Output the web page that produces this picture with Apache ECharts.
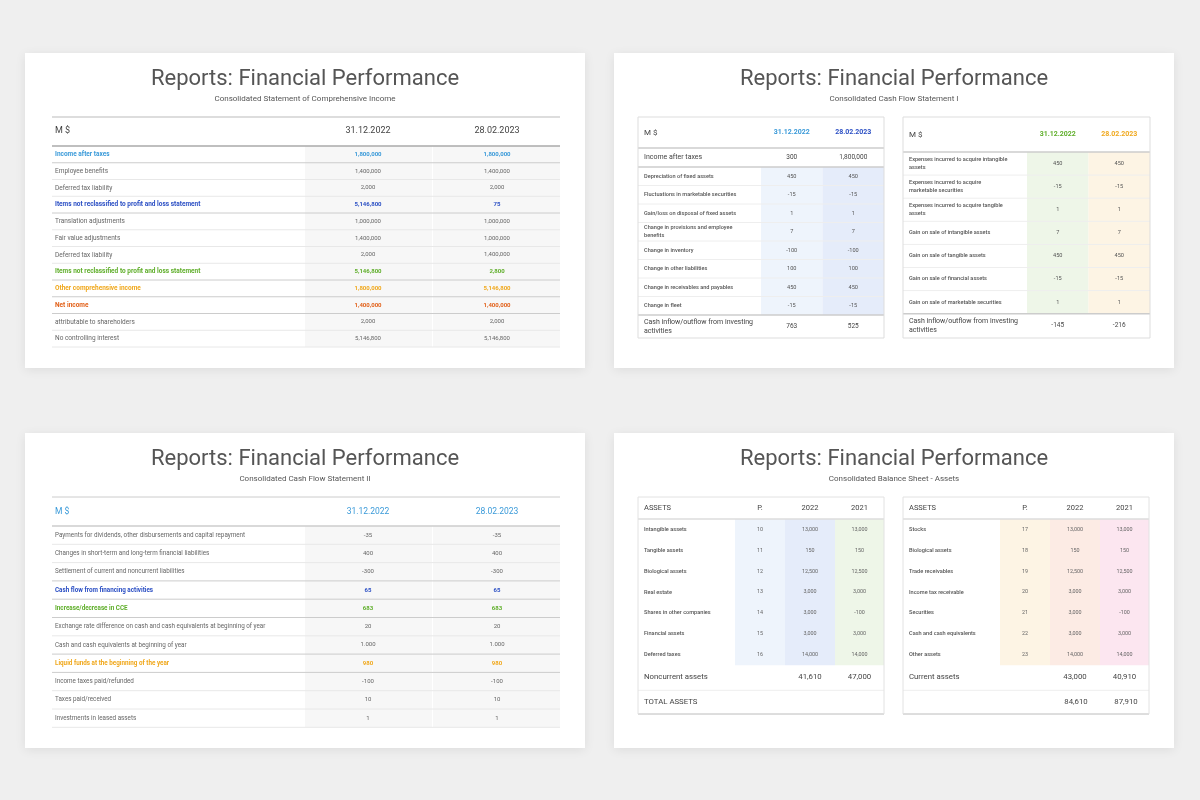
<!DOCTYPE html>
<html>
<head lang="en">
  <meta charset="UTF-8">
  <title>Reports: Financial Performance</title>
  <script src="https://cdn.jsdelivr.net/npm/echarts@6/dist/echarts.min.js"></script>
  <style>
  body { margin: 0; background: #efefef; }
  #main { width: 1200px; height: 800px; }
  </style>
</head>
<body>
  <div id="main"></div>
<script>
var TITLE = 'Reports: Financial Performance';

// slide 1
var incomeHeader = ['M $', '31.12.2022', '28.02.2023'];
var incomeLabels = ['Income after taxes', 'Employee benefits', 'Deferred tax liability',
  'Items not reclassified to profit and loss statement', 'Translation adjustments',
  'Fair value adjustments', 'Deferred tax liability',
  'Items not reclassified to profit and loss statement', 'Other comprehensive income',
  'Net income', 'attributable to shareholders', 'No controlling interest'];
var income2022 = ['1,800,000', '1,400,000', '2,000', '5,146,800', '1,000,000', '1,400,000', '2,000', '5,146,800', '1,800,000', '1,400,000', '2,000', '5,146,800'];
var income2023 = ['1,800,000', '1,400,000', '2,000', '75', '1,000,000', '1,000,000', '1,400,000', '2,800', '5,146,800', '1,400,000', '2,000', '5,146,800'];
var incomeStyle = ['lblue', '', '', 'dblue', '', '', '', 'green', 'orange', 'red', '', ''];

// slide 2
var cfTop = ['Income after taxes', '300', '1,800,000'];
var cfLabels = ['Depreciation of fixed assets', 'Fluctuations in marketable securities',
  'Gain/loss on disposal of fixed assets', 'Change in provisions and employee\nbenefits',
  'Change in inventory', 'Change in other liabilities', 'Change in receivables and payables',
  'Change in fleet'];
var cf2022 = ['450', '-15', '1', '7', '-100', '100', '450', '-15'];
var cf2023 = ['450', '-15', '1', '7', '-100', '100', '450', '-15'];
var cfTotal = ['Cash inflow/outflow from investing\nactivities', '763', '525'];
var invLabels = ['Expenses incurred to acquire intangible\nassets', 'Expenses incurred to acquire\nmarketable securities',
  'Expenses incurred to acquire tangible\nassets', 'Gain on sale of intangible assets',
  'Gain on sale of tangible assets', 'Gain on sale of financial assets', 'Gain on sale of marketable securities'];
var inv2022 = ['450', '-15', '1', '7', '450', '-15', '1'];
var inv2023 = ['450', '-15', '1', '7', '450', '-15', '1'];
var invTotal = ['Cash inflow/outflow from investing\nactivities', '-145', '-216'];

// slide 3
var cf2Labels = ['Payments for dividends, other disbursements and capital repayment',
  'Changes in short-term and long-term financial liabilities',
  'Settlement of current and noncurrent liabilities', 'Cash flow from financing activities',
  'Increase/decrease in CCE', 'Exchange rate difference on cash and cash equivalents at beginning of year',
  'Cash and cash equivalents at beginning of year', 'Liquid funds at the beginning of the year',
  'Income taxes paid/refunded', 'Taxes paid/received', 'Investments in leased assets'];
var cf2A = ['-35', '400', '-300', '65', '683', '20', '1.000', '980', '-100', '10', '1'];
var cf2B = ['-35', '400', '-300', '65', '683', '20', '1.000', '980', '-100', '10', '1'];
var cf2Style = ['', '', '', 'dblue', 'green', '', '', 'orange', '', '', ''];

// slide 4
var assetHeader = ['ASSETS', 'P.', '2022', '2021'];
var ncLabels = ['Intangible assets', 'Tangible assets', 'Biological assets', 'Real estate', 'Shares in other companies', 'Financial assets', 'Deferred taxes'];
var ncP = ['10', '11', '12', '13', '14', '15', '16'];
var nc2022 = ['13,000', '150', '12,500', '3,000', '3,000', '3,000', '14,000'];
var nc2021 = ['13,000', '150', '12,500', '3,000', '-100', '3,000', '14,000'];
var curLabels = ['Stocks', 'Biological assets', 'Trade receivables', 'Income tax receivable', 'Securities', 'Cash and cash equivalents', 'Other assets'];
var curP = ['17', '18', '19', '20', '21', '22', '23'];
var cur2022 = ['13,000', '150', '12,500', '3,000', '3,000', '3,000', '14,000'];
var cur2021 = ['13,000', '150', '12,500', '3,000', '-100', '3,000', '14,000'];
var ncTotal = ['Noncurrent assets', '41,610', '47,000'];
var curTotal = ['Current assets', '43,000', '40,910'];
var grandTotal = ['TOTAL ASSETS', '84,610', '87,910'];

var COLORS = { '': '#666', lblue: '#3a9ad9', dblue: '#2b4fc4', green: '#5fae2a', orange: '#f0a81c', red: '#e2621b' };
var FONT = 'Roboto, sans-serif';
var els = [];

function rect(x, y, w, h, fill, extra) {
  var r = { type: 'rect', shape: { x: x, y: y, width: w, height: h }, style: { fill: fill }, silent: true };
  if (extra) for (var k in extra) r.style[k] = extra[k];
  els.push(r);
}
function line(x1, y1, x2, y2, color, w) {
  els.push({ type: 'line', shape: { x1: x1, y1: y1, x2: x2, y2: y2 }, style: { stroke: color, lineWidth: w || 1 }, silent: true });
}
function text(x, y, s, size, color, align, weight) {
  els.push({ type: 'text', x: x, y: y, silent: true, style: {
    text: s, fontSize: size, fill: color, align: align || 'left', verticalAlign: 'middle',
    fontFamily: FONT, fontWeight: weight || 'normal', lineHeight: size + 2 } });
}
function card(x, y, sub) {
  rect(x, y, 560, 315, '#fff', { shadowBlur: 10, shadowColor: 'rgba(0,0,0,0.08)', shadowOffsetY: 2 });
  text(x + 280, y + 26, TITLE, 22, '#555', 'center');
  text(x + 280, y + 46, sub, 8, '#555', 'center');
}

// slide 1
card(25, 53, 'Consolidated Statement of Comprehensive Income');
(function () {
  var top = 146, rh = 16.75;
  rect(305, top, 127, rh * 12, '#f7f7f7');
  rect(433, top, 127, rh * 12, '#f7f7f7');
  line(52, 117, 560, 117, '#bbb', 1);
  text(55, 131, incomeHeader[0], 9, '#444');
  text(368, 131, incomeHeader[1], 9, '#444', 'center');
  text(497, 131, incomeHeader[2], 9, '#444', 'center');
  line(52, top, 560, top, '#aaa', 1.5);
  for (var i = 0; i < incomeLabels.length; i++) {
    var cy = top + rh * i + rh / 2, st = incomeStyle[i], c = COLORS[st], b = st ? 'bold' : 'normal';
    text(55, cy, incomeLabels[i], 6.5, c, 'left', b);
    text(368, cy, income2022[i], 6, c, 'center', b);
    text(497, cy, income2023[i], 6, c, 'center', b);
    line(52, top + rh * (i + 1), 560, top + rh * (i + 1), st ? '#ccc' : '#e8e8e8', 1);
  }
})();

// slide 2
card(614, 53, 'Consolidated Cash Flow Statement I');
function sideTable(x, w, hdrBottom, rowH, labels, a, b, total, colA, colB, hdrCol, top) {
  var y0 = 117, rows = labels.length, bandW = 61.5;
  var cx1 = x + w - bandW * 1.5, cx2 = x + w - bandW * 0.5;
  var start = hdrBottom + (top ? 19 : 0);
  rect(x + w - bandW * 2, start, bandW, rowH * rows, colA);
  rect(x + w - bandW, start, bandW, rowH * rows, colB);
  text(x + 6, (y0 + hdrBottom) / 2, 'M $', 8, '#444');
  text(cx1, (y0 + hdrBottom) / 2, '31.12.2022', 7, hdrCol[0], 'center', 'bold');
  text(cx2, (y0 + hdrBottom) / 2, '28.02.2023', 7, hdrCol[1], 'center', 'bold');
  line(x, hdrBottom, x + w, hdrBottom, '#ccc', 1.5);
  if (top) {
    text(x + 6, hdrBottom + 9.5, top[0], 7, '#444');
    text(cx1, hdrBottom + 9.5, top[1], 6.5, '#444', 'center');
    text(cx2, hdrBottom + 9.5, top[2], 6.5, '#444', 'center');
    line(x, start, x + w, start, '#ccc', 1.5);
  }
  for (var i = 0; i < rows; i++) {
    var cy = start + rowH * i + rowH / 2;
    text(x + 6, cy, labels[i], 5.6, '#555', 'left', 500);
    text(cx1, cy, a[i], 5.6, '#555', 'center');
    text(cx2, cy, b[i], 5.6, '#555', 'center');
    if (i < rows - 1) line(x, start + rowH * (i + 1), x + w, start + rowH * (i + 1), '#eee', 1);
  }
  var end = start + rowH * rows;
  line(x, end, x + w, end, '#ccc', 1.5);
  var ty = (end + 338) / 2;
  text(x + 6, ty, total[0], 7, '#444');
  text(cx1, ty, total[1], 6.5, '#444', 'center');
  text(cx2, ty, total[2], 6.5, '#444', 'center');
  rect(x, y0, w, 338 - y0, 'none', { stroke: '#ddd', lineWidth: 1 });
}
sideTable(638, 246, 148, 18.5, cfLabels, cf2022, cf2023, cfTotal, '#eef4fc', '#e5ecfa', ['#3a9ad9', '#2b4fc4'], cfTop);
sideTable(903, 247, 152, 23.1, invLabels, inv2022, inv2023, invTotal, '#eef6e8', '#fdf4e4', ['#5fae2a', '#f0a81c'], null);

// slide 3
card(25, 433, 'Consolidated Cash Flow Statement II');
(function () {
  var top = 526, rh = 18.3;
  rect(305, top, 127, rh * 11, '#f7f7f7');
  rect(433, top, 127, rh * 11, '#f7f7f7');
  line(52, 497, 560, 497, '#ccc', 1);
  text(55, 512, 'M $', 8.5, '#3a9ad9');
  text(368, 512, '31.12.2022', 8.5, '#3a9ad9', 'center');
  text(497, 512, '28.02.2023', 8.5, '#3a9ad9', 'center');
  line(52, top, 560, top, '#ccc', 1.5);
  for (var i = 0; i < cf2Labels.length; i++) {
    var cy = top + rh * i + rh / 2, st = cf2Style[i], c = COLORS[st], b = st ? 'bold' : 'normal';
    text(55, cy, cf2Labels[i], 6.3, c, 'left', b);
    text(368, cy, cf2A[i], 6, c, 'center', b);
    text(497, cy, cf2B[i], 6, c, 'center', b);
    line(52, top + rh * (i + 1), 560, top + rh * (i + 1), (st || cf2Style[i + 1]) ? '#ccc' : '#e8e8e8', 1);
  }
})();

// slide 4
card(614, 433, 'Consolidated Balance Sheet - Assets');
function assetTable(x, labels, p, a, b, total, grand, cols) {
  var w = 246, y0 = 497, hb = 519, rh = 20.9, rows = labels.length;
  var bx = [x + 97, x + 147, x + 197, x + 246];
  for (var k = 0; k < 3; k++) rect(bx[k], hb, bx[k + 1] - bx[k], rh * rows, cols[k]);
  var cx = [(bx[0] + bx[1]) / 2, (bx[1] + bx[2]) / 2, (bx[2] + bx[3]) / 2];
  text(x + 6, 508, assetHeader[0], 7.5, '#444');
  for (k = 0; k < 3; k++) text(cx[k], 508, assetHeader[k + 1], 7.5, '#444', 'center');
  line(x, hb, x + w, hb, '#ddd', 1.5);
  for (var i = 0; i < rows; i++) {
    var cy = hb + rh * i + rh / 2;
    text(x + 6, cy, labels[i], 5.6, '#555', 'left', 500);
    text(cx[0], cy, p[i], 5.4, '#666', 'center');
    text(cx[1], cy, a[i], 5.4, '#666', 'center');
    text(cx[2], cy, b[i], 5.4, '#666', 'center');
  }
  var e = hb + rh * rows;
  text(x + 6, e + 12, total[0], 7.8, '#444');
  text(cx[1], e + 12, total[1], 7.8, '#444', 'center');
  text(cx[2], e + 12, total[2], 7.8, '#444', 'center');
  line(x, e + 25, x + w, e + 25, '#eee', 1);
  if (grand) {
    text(x + 6, e + 37, grand[0], 7.8, '#444');
  }
  line(x, 714, x + w, 714, '#ccc', 1.5);
  rect(x, y0, w, 714 - y0, 'none', { stroke: '#e2e2e2', lineWidth: 1 });
}
assetTable(638, ncLabels, ncP, nc2022, nc2021, ncTotal, grandTotal, ['#eef4fc', '#e5ecfa', '#eef6e8']);
assetTable(903, curLabels, curP, cur2022, cur2021, curTotal, null, ['#fdf4e4', '#fcebe4', '#fce6f0']);
text(1076, 702, grandTotal[1], 7.8, '#444', 'center');
text(1126, 702, grandTotal[2], 7.8, '#444', 'center');

var myChart = echarts.init(document.getElementById('main'));
myChart.setOption({ backgroundColor: '#efefef', graphic: { elements: els } });
</script>
</body>
</html>
